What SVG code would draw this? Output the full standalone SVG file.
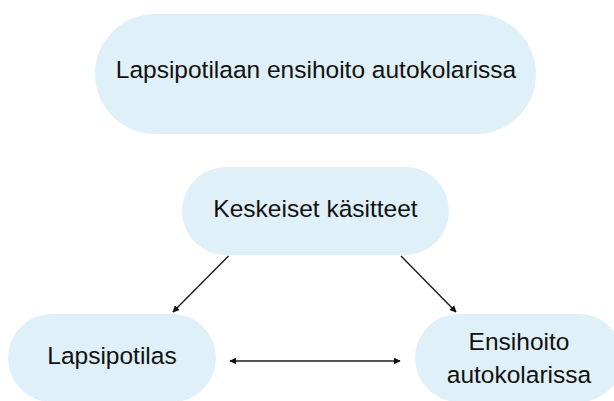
<svg xmlns="http://www.w3.org/2000/svg" width="614" height="401" viewBox="0 0 614 401">
<style>
.node{fill:#DFF0F8;}
.t{font-family:"Liberation Sans",Arial,sans-serif;font-size:24.5px;fill:#111;text-anchor:middle;}
.c{stroke:#1a1a1a;stroke-width:1.4;fill:none;}
</style>
<defs>
<marker id="ah" viewBox="0 0 10 10" refX="9" refY="5" markerWidth="7" markerHeight="7" markerUnits="userSpaceOnUse" orient="auto-start-reverse">
<path d="M0,0 L10,5 L0,10 z" fill="#111"/>
</marker>
</defs>
<rect width="614" height="401" fill="#fff"/>
<g id="node-title">
<rect class="node" x="95" y="14" width="441" height="120" rx="60" ry="60"/>
<text class="t" x="316" y="77.5">Lapsipotilaan ensihoito autokolarissa</text>
</g>
<g id="node-keskeiset">
<rect class="node" x="182" y="167" width="267" height="88" rx="44" ry="44"/>
<text class="t" x="315.5" y="216.7">Keskeiset käsitteet</text>
</g>
<g id="node-lapsipotilas">
<rect class="node" x="8" y="314" width="208" height="88" rx="44" ry="44"/>
<text class="t" x="112" y="364.3">Lapsipotilas</text>
</g>
<g id="node-ensihoito">
<rect class="node" x="415" y="314" width="208" height="88" rx="44" ry="44"/>
<text class="t" x="519" y="350">Ensihoito</text>
<text class="t" x="519" y="382.5">autokolarissa</text>
</g>
<g id="connectors">
<line class="c" x1="228.5" y1="256" x2="173" y2="312" marker-end="url(#ah)"/>
<line class="c" x1="401" y1="256" x2="456" y2="312" marker-end="url(#ah)"/>
<line class="c" x1="230" y1="361" x2="400" y2="361" marker-start="url(#ah)" marker-end="url(#ah)"/>
</g>
</svg>
